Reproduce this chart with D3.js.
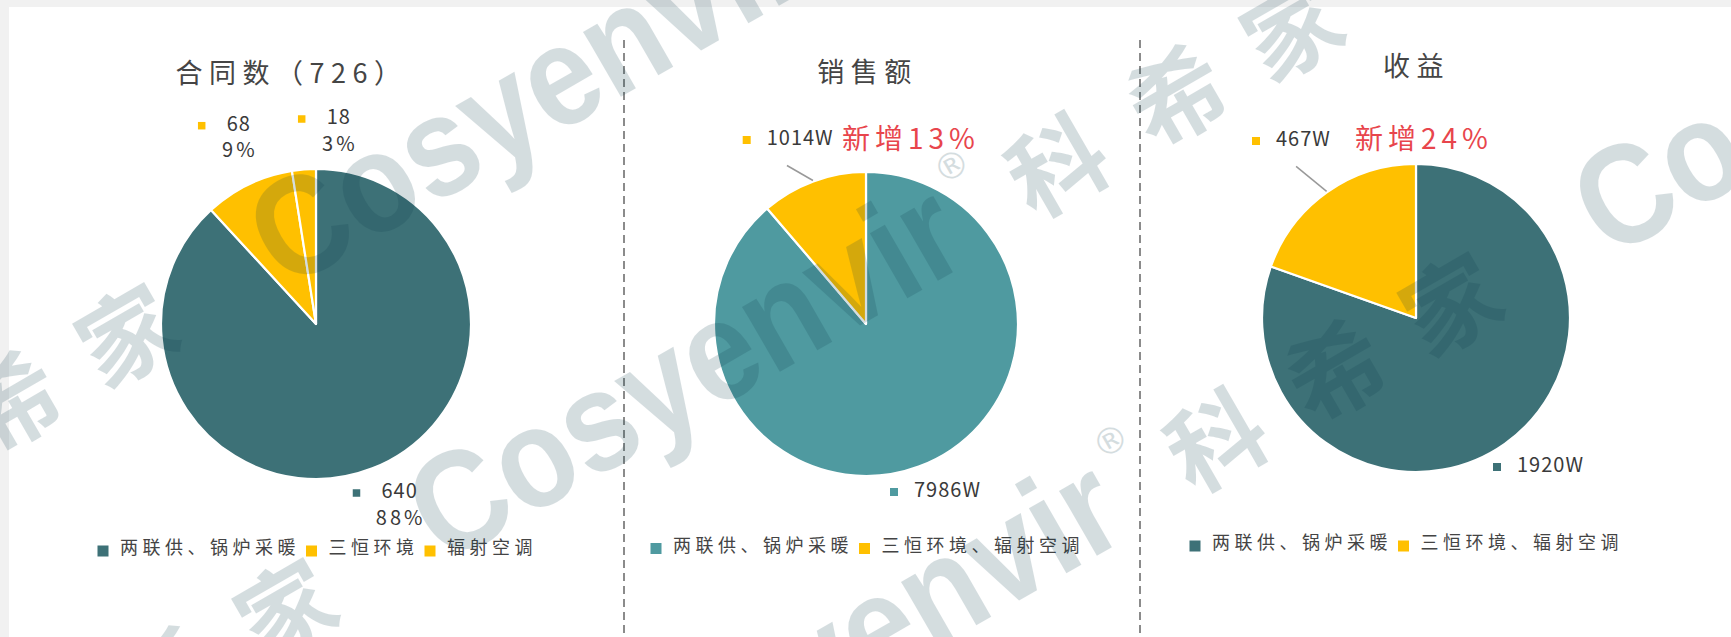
<!DOCTYPE html>
<html><head><meta charset="utf-8">
<script src="https://cdn.jsdelivr.net/npm/d3@7"></script>
<style>
html,body{margin:0;padding:0;background:#fff;overflow:hidden;}
svg{display:block;}
text{font-family:"Noto Sans CJK SC","Noto Sans",sans-serif;}
</style></head><body>
<svg id="chart" width="1731" height="637"></svg>
<script>
// ---------- data ----------
const titles = ['合同数（726）', '销售额', '收益'];
const contractCategories = ['两联供、锅炉采暖', '三恒环境', '辐射空调'];
const contractValues = [640, 68, 18];
const contractPercents = ['88%', '9%', '3%'];
const revenueCategories = ['两联供、锅炉采暖', '三恒环境、辐射空调'];
const salesValues = [7986, 1014];
const salesLabels = ['7986W', '1014W'];
const profitValues = [1920, 467];
const profitLabels = ['1920W', '467W'];
const growthNotes = ['新增13%', '新增24%'];

// ---------- styles / layout ----------
const TEAL = '#3d7177', LTEAL = '#4f9aa0', YELLOW = '#ffc000';
const W = 1731, H = 637;

const charts = [
  { title: titles[0], cats: contractCategories, values: contractValues,
    labels: contractValues.map(String), percents: contractPercents,
    colors: [TEAL, YELLOW, YELLOW],
    cx: 316, cy: 324, r: 155, titleX: 288, titleY: 83,
    labelPos: [[65.5, 174], [-89.3, -193.3], [10.7, -200]],
    markerDX: -25, markerSize: 7.5,
    legendCX: 315, legendY: 554 },
  { title: titles[1], cats: revenueCategories, values: salesValues,
    labels: salesLabels, colors: [LTEAL, YELLOW],
    cx: 866, cy: 324, r: 152, titleX: 864, titleY: 82,
    labelPos: [[48, 173], [-99.3, -179]],
    markerDX: -20, markerSize: 8,
    leader: { slice: 1, dx: -26, dy: -15 },
    note: growthNotes[0], notePos: [-24, -175],
    legendCX: 865, legendY: 551.5 },
  { title: titles[2], cats: revenueCategories, values: profitValues,
    labels: profitLabels, colors: [TEAL, YELLOW],
    cx: 1416, cy: 318, r: 154, titleX: 1413, titleY: 76,
    labelPos: [[101, 154], [-140, -172]],
    markerDX: -20, markerSize: 8,
    leader: { slice: 1, dx: -30.5, dy: -25 },
    note: growthNotes[1], notePos: [-61, -169],
    legendCX: 1404, legendY: 549 }
];

const svg = d3.select('#chart');
svg.append('rect').attr('width', W).attr('height', H).attr('fill', '#fff');
svg.append('rect').attr('width', W).attr('height', 7).attr('fill', '#f1f1f1');
svg.append('rect').attr('width', 9).attr('height', H).attr('fill', '#f1f1f1');

// dashed separators
[624, 1140].forEach(x => {
  svg.append('line').attr('x1', x).attr('x2', x).attr('y1', 40).attr('y2', H)
    .attr('stroke', '#666').attr('stroke-width', 1.5).attr('stroke-dasharray', '8,5');
});

const polar = (a, rad) => [rad * Math.sin(a), -rad * Math.cos(a)];

charts.forEach(c => {
  const g = svg.append('g').attr('transform', `translate(${c.cx},${c.cy})`);
  const pieData = d3.pie().sort(null).value(d => d)(c.values);
  const arc = d3.arc().innerRadius(0).outerRadius(c.r);
  const color = d3.scaleOrdinal().domain(d3.range(c.values.length)).range(c.colors);

  g.selectAll('path.slice').data(pieData).join('path')
    .attr('class', 'slice')
    .attr('d', arc)
    .attr('fill', (d, i) => color(i))
    .attr('stroke', '#fff').attr('stroke-width', 2.2).attr('stroke-linejoin', 'round');

  if (c.leader) {
    const d = pieData[c.leader.slice];
    const mid = (d.startAngle + d.endAngle) / 2;
    const s = polar(mid, c.r + 1);
    g.append('line').attr('x1', s[0]).attr('y1', s[1])
      .attr('x2', s[0] + c.leader.dx).attr('y2', s[1] + c.leader.dy)
      .attr('stroke', '#999').attr('stroke-width', 1.5);
  }

  pieData.forEach((d, i) => {
    const [lx, ly] = c.labelPos[i];
    const lg = g.append('g');
    const t = lg.append('text').attr('x', lx).attr('y', ly)
      .attr('font-size', 20).attr('letter-spacing', 1).attr('fill', '#3a3a3a')
      .text(c.labels[i]);
    const ms = c.markerSize;
    lg.append('rect').attr('x', lx + c.markerDX - ms / 2).attr('y', ly - 5 - ms / 2)
      .attr('width', ms).attr('height', ms).attr('fill', color(i));
    if (c.percents) {
      const w = t.node().getComputedTextLength();
      lg.append('text').attr('x', lx + w / 2 + 1).attr('y', ly + 26.5)
        .attr('text-anchor', 'middle')
        .attr('font-size', 20).attr('letter-spacing', 3).attr('fill', '#3a3a3a')
        .text(c.percents[i]);
    }
  });

  if (c.note) {
    g.append('text').attr('x', c.notePos[0]).attr('y', c.notePos[1])
      .attr('font-size', 28).attr('letter-spacing', 5).attr('fill', '#e8454c')
      .text(c.note);
  }

  svg.append('text').attr('x', c.titleX + 3.5).attr('y', c.titleY)
    .attr('text-anchor', 'middle').attr('font-size', 27).attr('letter-spacing', 6.5)
    .attr('fill', '#454545').text(c.title);

  const lgd = svg.append('g');
  let x = 0;
  c.cats.forEach((cat, i) => {
    const it = lgd.append('g');
    it.append('rect').attr('x', x).attr('y', c.legendY - 8.5).attr('width', 11).attr('height', 11)
      .attr('fill', color(i));
    const tt = it.append('text').attr('x', x + 22.5).attr('y', c.legendY)
      .attr('font-size', 18).attr('letter-spacing', 4.5).attr('fill', '#444').text(cat);
    const w = tt.node().getComputedTextLength();
    x += 22.5 + w + 6;
  });
  const total = x - 6 - 4.5;
  lgd.attr('transform', `translate(${c.legendCX - total / 2},0)`);
});

// ---------- watermark ----------
const wm = svg.append('g').attr('opacity', 0.17).attr('fill', '#0a3a4a');
const lineOrigins = [[128, 338], [287, 613], [446, 888]];
const period = 1162;
const ang = -30 * Math.PI / 180;
const pieces = [
  { a: -271, p: 0, t: '科', fs: 96, fam: '"Noto Sans CJK SC"', fw: 700 },
  { a: -133, p: 0, t: '希', fs: 96, fam: '"Noto Sans CJK SC"', fw: 700 },
  { a: 0, p: 0, t: '家', fs: 96, fam: '"Noto Sans CJK SC"', fw: 700 },
  { a: 465, p: -12, t: 'Cosyenvir', fs: 142, fam: '"Liberation Sans"', fw: 700, len: 610 },
  { a: 799, p: -55, t: '®', fs: 36, fam: '"DejaVu Sans"', fw: 400 }
];
lineOrigins.forEach(o => {
  const lg = wm.append('g').attr('transform', `translate(${o[0]},${o[1]}) rotate(-30)`);
  [-1, 0, 1].forEach(k => {
    pieces.forEach(pc => {
      const ax = pc.a + k * period;
      const sx = o[0] + ax * Math.cos(ang) - pc.p * Math.sin(ang);
      const sy = o[1] + ax * Math.sin(ang) + pc.p * Math.cos(ang);
      const m = (pc.len || pc.fs) / 2 + 20;
      if (sx < -m || sx > W + m || sy < -m || sy > H + m) return;
      const t = lg.append('text').attr('x', ax).attr('y', pc.p).attr('dy', '0.35em')
        .attr('text-anchor', 'middle').attr('font-size', pc.fs)
        .attr('font-weight', pc.fw).style('font-family', pc.fam)
        .text(pc.t);
      if (pc.len) t.attr('textLength', pc.len).attr('lengthAdjust', 'spacingAndGlyphs');
    });
  });
});
</script>
</body></html>
